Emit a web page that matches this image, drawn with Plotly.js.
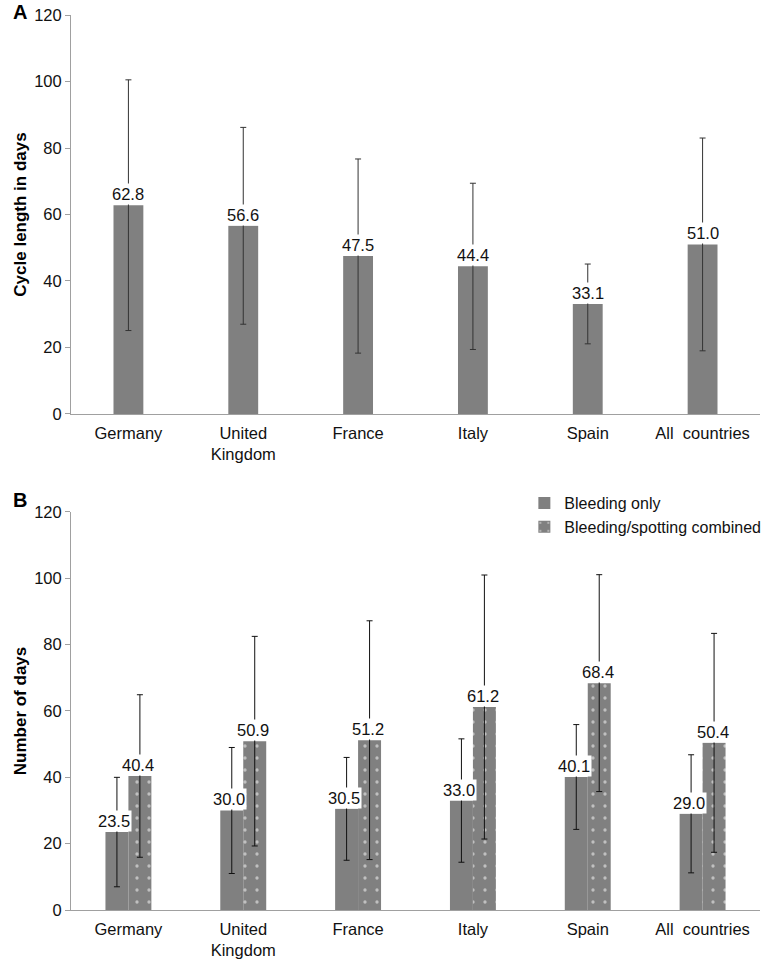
<!DOCTYPE html>
<html>
<head>
<meta charset="utf-8">
<script src="https://cdn.plot.ly/plotly-3.0.1.min.js"></script>
<style>html,body{margin:0;padding:0;background:#fff;}#chart{width:769px;height:959px;}</style>
</head>
<body>
<div id="chart"></div>
<script>
// ---- Data ----
const categories = ["Germany", "United<br>Kingdom", "France", "Italy", "Spain", "All  countries"];

// Panel A: cycle length (mean, SD)
const cycleMean = [62.8, 56.6, 47.5, 44.4, 33.1, 51.0];
const cycleSD   = [37.7, 29.6, 29.2, 25.0, 12.0, 32.0];

// Panel B: number of days (mean, SD)
const bleedMean = [23.5, 30.0, 30.5, 33.0, 40.1, 29.0];
const bleedSD   = [16.5, 19.0, 15.5, 18.6, 15.8, 17.8];
const comboMean = [40.4, 50.9, 51.2, 61.2, 68.4, 50.4];
const comboSD   = [24.5, 31.6, 36.0, 39.8, 32.7, 33.0];

const seriesNames = ["Bleeding only", "Bleeding/spotting combined"];
const yTicks = [0, 20, 40, 60, 80, 100, 120];

// ---- Styles ----
const FONT = "Liberation Sans, Arial, sans-serif";
const GREY = "#808080";
const AXIS = "#a0a0a0";
const FS = 16.5;

const traces = [
  {
    type: "bar", x: categories, y: cycleMean, xaxis: "x", yaxis: "y",
    width: 0.26, marker: {color: GREY}, showlegend: false, hoverinfo: "none",
    error_y: {type: "data", array: cycleSD, visible: true, color: "#333", thickness: 1, width: 3}
  },
  {
    type: "bar", name: seriesNames[0], x: categories, y: bleedMean, xaxis: "x2", yaxis: "y2",
    width: 0.2, offset: -0.2, marker: {color: GREY}, hoverinfo: "none",
    error_y: {type: "data", array: bleedSD, visible: true, color: "#111", thickness: 1, width: 3}
  },
  {
    type: "bar", name: seriesNames[1], x: categories, y: comboMean, xaxis: "x2", yaxis: "y2",
    width: 0.2, offset: 0, hoverinfo: "none",
    marker: {color: GREY, pattern: {shape: ".", fgcolor: "#ffffff", bgcolor: GREY, size: 12, solidity: 0.06, fillmode: "overlay"}},
    error_y: {type: "data", array: comboSD, visible: true, color: "#111", thickness: 1, width: 3}
  }
];

function labelAnns(vals, xref, yref, xshift) {
  return vals.map((v, i) => ({
    x: categories[i], y: v, xref: xref, yref: yref, text: v.toFixed(1),
    showarrow: false, yanchor: "bottom", xanchor: "center", xshift: xshift,
    bgcolor: "#ffffff", borderpad: 1, font: {family: FONT, size: FS, color: "#111"}
  }));
}

const annotations = [].concat(
  labelAnns(cycleMean, "x", "y", 0),
  labelAnns(bleedMean, "x2", "y2", -14),
  labelAnns(comboMean, "x2", "y2", 10),
  [
    {text: "A", xref: "paper", yref: "paper", x: -0.087, y: 1.0034, xanchor: "left", yanchor: "middle",
     showarrow: false, font: {family: FONT, size: 20, color: "#000", weight: "bold"}},
    {text: "B", xref: "paper", yref: "paper", x: -0.087, y: 0.458, xanchor: "left", yanchor: "middle",
     showarrow: false, font: {family: FONT, size: 20, color: "#000", weight: "bold"}}
  ]
);

function yAxis(title, domain, anchor) {
  return {
    domain: domain, anchor: anchor, range: [0, 120], tickvals: yTicks,
    showline: true, linecolor: AXIS, linewidth: 1, ticks: "outside", ticklen: 5, tickcolor: AXIS,
    showgrid: false, zeroline: false, fixedrange: true,
    tickfont: {family: FONT, size: FS, color: "#111"},
    title: {text: title, font: {family: FONT, size: 17, color: "#000", weight: "bold"}, standoff: 3}
  };
}
function xAxis(anchor) {
  return {
    anchor: anchor, type: "category", showline: true, linecolor: AXIS, linewidth: 1,
    ticks: "", showgrid: false, zeroline: false, fixedrange: true, ticklabelstandoff: 4,
    tickfont: {family: FONT, size: FS, color: "#111"}
  };
}

const layout = {
  width: 769, height: 959,
  margin: {l: 71, r: 9, t: 15, b: 49, autoexpand: false},
  paper_bgcolor: "#fff", plot_bgcolor: "#fff",
  barmode: "group",
  xaxis: Object.assign(xAxis("y"), {domain: [0, 1]}),
  yaxis: yAxis("Cycle length in days", [0.5542, 1], "x"),
  xaxis2: Object.assign(xAxis("y2"), {domain: [0, 1]}),
  yaxis2: yAxis("Number of days", [0, 0.4447], "x2"),
  showlegend: true,
  legend: {x: 0.658, y: 0.4736, xanchor: "left", yanchor: "top", bgcolor: "rgba(0,0,0,0)",
           font: {family: FONT, size: 16, color: "#111"}, tracegroupgap: 0},
  annotations: annotations
};

Plotly.newPlot("chart", traces, layout, {staticPlot: true, displayModeBar: false});
</script>
</body>
</html>
